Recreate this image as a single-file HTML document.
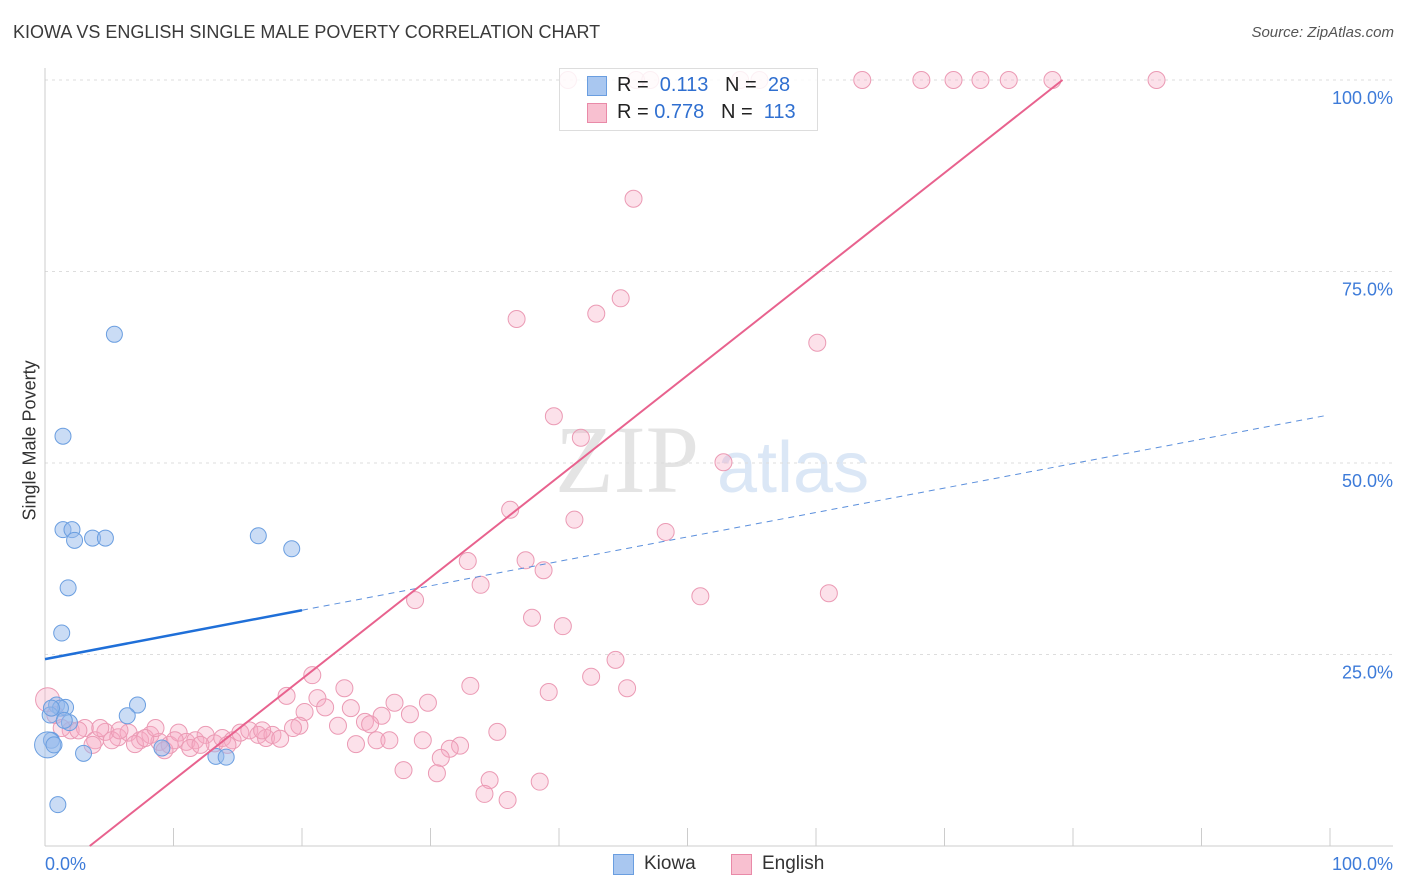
<!DOCTYPE html>
<html><head><meta charset="utf-8"><style>
body{margin:0;background:#fff;font-family:"Liberation Sans",sans-serif;}
#wrap{position:relative;width:1406px;height:892px;overflow:hidden;}
.t{position:absolute;white-space:nowrap;}
</style></head><body>
<div id="wrap">
<div class="t" style="left:13px;top:22px;font-size:18px;color:#3a3a3a;">KIOWA VS ENGLISH SINGLE MALE POVERTY CORRELATION CHART</div>
<div class="t" style="right:12px;top:24px;font-size:15px;color:#555;font-style:italic;">Source: ZipAtlas.com</div>
<div class="t" style="left:-35px;top:445px;font-size:18px;color:#333;transform:rotate(-90deg);width:130px;text-align:center;">Single Male Poverty</div>
<svg id="svg" width="1406" height="892" style="position:absolute;left:0;top:0">
<text x="555" y="492" font-family="Liberation Serif" font-size="96" fill="#e4e4e4">ZIP</text>
<text x="717" y="492" font-family="Liberation Sans" font-size="72" fill="#dbe7f6">atlas</text>
</svg>
<div style="position:absolute;left:559px;top:68px;width:257px;height:61px;border:1px solid #ddd;background:rgba(255,255,255,0.85);"></div>
<div style="position:absolute;left:587px;top:76px;width:18px;height:18px;background:#a9c7f0;border:1px solid #6a9ee0;"></div>
<div class="t" style="left:617px;top:74px;font-size:20px;color:#222;">R = &nbsp;<span style="color:#2f6fd0">0.113</span> &nbsp;&nbsp;N = &nbsp;<span style="color:#2f6fd0">28</span></div>
<div style="position:absolute;left:587px;top:103px;width:18px;height:18px;background:#f8c0d0;border:1px solid #e98aa8;"></div>
<div class="t" style="left:617px;top:101px;font-size:20px;color:#222;">R = <span style="color:#2f6fd0">0.778</span> &nbsp;&nbsp;N = &nbsp;<span style="color:#2f6fd0">113</span></div>
<div style="position:absolute;left:613px;top:854px;width:19px;height:19px;background:#a9c7f0;border:1px solid #6a9ee0;"></div>
<div class="t" style="left:644px;top:853px;font-size:19px;color:#333;">Kiowa</div>
<div style="position:absolute;left:731px;top:854px;width:19px;height:19px;background:#f8c0d0;border:1px solid #e98aa8;"></div>
<div class="t" style="left:762px;top:853px;font-size:19px;color:#333;">English</div>
</div>
<script>
const yTicks=[25,50,75,100];
const yTickLabels=["25.0%","50.0%","75.0%","100.0%"];
const xTickLabels=["0.0%","100.0%"];
const kiowaX=[5.4,1.4,1.4,2.1,2.3,3.7,4.7,16.6,19.2,1.8,1.3,0.9,1.6,7.2,6.4,1.9,0.5,0.2,3.0,9.1,13.3,14.1,1.0,1.2,0.4,0.7,0.5,1.5];
const kiowaY=[66.8,53.5,41.3,41.3,39.9,40.2,40.2,40.5,38.8,33.7,27.8,18.4,18.1,18.4,17.0,16.1,13.8,13.2,12.1,12.8,11.7,11.6,5.4,18.0,17.1,13.2,18.0,16.4];
const englishX=[40.7,46.0,47.1,54.1,55.6,63.6,68.2,70.7,72.8,75.0,78.4,86.5,
45.8,44.8,36.7,42.9,60.1,39.6,41.7,52.8,36.2,41.2,48.3,32.9,37.4,38.8,33.9,28.8,51.0,61.0,37.9,40.3,44.4,42.5,45.3,39.2,33.1,20.8,23.3,18.8,21.2,27.2,29.8,21.8,23.8,20.2,28.4,26.2,19.8,22.8,24.9,25.3,19.3,35.2,24.2,25.8,26.8,29.4,32.3,31.5,30.8,27.9,30.5,34.6,38.5,34.2,36.0,
0.2,0.8,2.0,3.1,3.9,4.7,5.7,6.5,7.4,8.2,8.9,9.7,10.4,11.0,11.7,12.5,13.2,13.8,14.6,15.2,15.9,16.6,17.2,17.7,18.3,11.3,9.3,7.0,5.2,3.7,2.6,1.3,4.3,7.8,12.1,14.2,16.9,8.6,5.8,10.1];
const englishY=[100,100,100,100,100,100,100,100,100,100,100,100,
84.5,71.5,68.8,69.5,65.7,56.1,53.3,50.1,43.9,42.6,41.0,37.2,37.3,36.0,34.1,32.1,32.6,33.0,29.8,28.7,24.3,22.1,20.6,20.1,20.9,22.3,20.6,19.6,19.3,18.7,18.7,18.1,18.0,17.5,17.2,17.0,15.7,15.7,16.2,15.9,15.4,14.9,13.3,13.8,13.8,13.8,13.1,12.7,11.5,9.9,9.5,8.6,8.4,6.8,6.0,
19.1,17.1,15.1,15.4,13.8,14.9,14.2,14.8,13.8,14.5,13.6,13.2,14.8,13.6,13.8,14.5,13.4,14.1,13.8,14.8,15.1,14.5,14.1,14.5,14.0,12.8,12.5,13.3,13.8,13.2,15.1,15.4,15.4,14.1,13.2,13.2,15.1,15.4,15.1,13.8];
const kiowaTrend=[24.4,56.3];   // y at x=0, y at x=100
const englishTrend=[-4.6,127.5];
const NS="http://www.w3.org/2000/svg";
const svg=document.getElementById('svg');
const X0=45,X1=1330,Y0=846,Y1=80;
const sx=v=>X0+(X1-X0)*v/100, sy=v=>Y0-(Y0-Y1)*v/100;
function mk(t,a){const e=document.createElementNS(NS,t);for(const k in a)e.setAttribute(k,a[k]);svg.appendChild(e);return e;}
yTicks.forEach((v,i)=>{
 const g=mk('line',{x1:X0,x2:1393,y1:sy(v),y2:sy(v),stroke:'#ddd','stroke-dasharray':'3,4'});
 
 
 const t=mk('text',{x:1393,y:sy(v)+24,'text-anchor':'end','font-size':18,fill:'#3d7bd9','font-family':'Liberation Sans'});
 t.textContent=yTickLabels[i];
 
 
});
let ax=mk('line',{x1:X0,x2:X0,y1:68,y2:Y0,stroke:'#ccc'});


ax=mk('line',{x1:X0,x2:1393,y1:Y0,y2:Y0,stroke:'#ccc'});


for(let i=0;i<=10;i++){
 const tk=mk('line',{x1:sx(i*10),x2:sx(i*10),y1:828,y2:Y0,stroke:'#ccc'});
 
 
}
[[0,'start',X0],[1,'end',1393]].forEach(([i,a,x])=>{
 const t=mk('text',{x:x,y:870,'text-anchor':a,'font-size':18,fill:'#3d7bd9','font-family':'Liberation Sans'});
 t.textContent=xTickLabels[i];
 
 
});
englishX.forEach((x,i)=>{
 const big=(x<1&&englishY[i]>18);
 const c=mk('circle',{cx:sx(x),cy:sy(englishY[i]),r:big?12:8.5,fill:'rgba(246,170,195,0.35)',stroke:'#eb9ab4','stroke-width':1});
 
 
});
kiowaX.forEach((x,i)=>{
 const big=(i==17);
 const c=mk('circle',{cx:sx(x),cy:sy(kiowaY[i]),r:big?13:8,fill:'rgba(150,185,235,0.5)',stroke:'#6a9ee0','stroke-width':1});
 
 
});
const ky=x=>kiowaTrend[0]+(kiowaTrend[1]-kiowaTrend[0])*x/100;
let l=mk('line',{x1:sx(0),y1:sy(ky(0)),x2:sx(20),y2:sy(ky(20)),stroke:'#1f6fd8','stroke-width':2.5});


l=mk('line',{x1:sx(20),y1:sy(ky(20)),x2:sx(99.8),y2:sy(ky(99.8)),stroke:'#5b8fdc','stroke-width':1,'stroke-dasharray':'6,5'});


const ey=x=>englishTrend[0]+(englishTrend[1]-englishTrend[0])*x/100;
const xs=(0-englishTrend[0])/(englishTrend[1]-englishTrend[0])*100, xe=(100-englishTrend[0])/(englishTrend[1]-englishTrend[0])*100;
l=mk('line',{x1:sx(xs),y1:sy(ey(xs)),x2:sx(xe),y2:sy(ey(xe)),stroke:'#e8628e','stroke-width':2});


</script>
</body></html>
